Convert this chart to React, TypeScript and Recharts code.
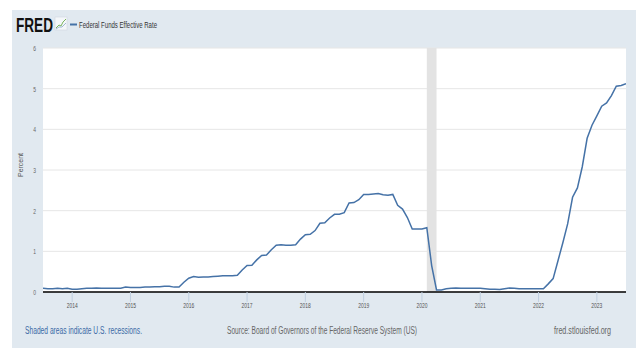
import React from "react";
import {
  CartesianGrid,
  Line,
  LineChart,
  ReferenceArea,
  XAxis,
  YAxis,
} from "recharts";

// monthly effective fed funds rate, percent
const rates2013 = [0.09, 0.08, 0.08, 0.09, 0.08, 0.09]; // Jul - Dec
const rates2014 = [0.07, 0.07, 0.08, 0.09, 0.09, 0.1, 0.09, 0.09, 0.09, 0.09, 0.09, 0.12];
const rates2015 = [0.11, 0.11, 0.11, 0.12, 0.12, 0.13, 0.13, 0.14, 0.14, 0.12, 0.12, 0.24];
const rates2016 = [0.34, 0.38, 0.36, 0.37, 0.37, 0.38, 0.39, 0.4, 0.4, 0.4, 0.41, 0.54];
const rates2017 = [0.65, 0.66, 0.79, 0.9, 0.91, 1.04, 1.15, 1.16, 1.15, 1.15, 1.16, 1.3];
const rates2018 = [1.41, 1.42, 1.51, 1.69, 1.7, 1.82, 1.91, 1.91, 1.95, 2.19, 2.2, 2.27];
const rates2019 = [2.4, 2.4, 2.41, 2.42, 2.39, 2.38, 2.4, 2.13, 2.04, 1.83, 1.55, 1.55];
const rates2020 = [1.55, 1.58, 0.65, 0.05, 0.05, 0.08, 0.09, 0.1, 0.09, 0.09, 0.09, 0.09];
const rates2021 = [0.09, 0.08, 0.07, 0.07, 0.06, 0.08, 0.1, 0.09, 0.08, 0.08, 0.08, 0.08];
const rates2022 = [0.08, 0.08, 0.2, 0.33, 0.77, 1.21, 1.68, 2.33, 2.56, 3.08, 3.78, 4.1];
const rates2023 = [4.33, 4.57, 4.65, 4.83, 5.06, 5.08, 5.12]; // Jan - Jul

const yearTicks = [2014, 2015, 2016, 2017, 2018, 2019, 2020, 2021, 2022, 2023];
const percentTicks = [0, 1, 2, 3, 4, 5, 6];
// recession: Feb 2020 - Apr 2020
const recessionStart = { year: 2020, month: 2 };
const recessionEnd = { year: 2020, month: 4 };

const yearly = [
  { year: 2013, first: 7, values: rates2013 },
  { year: 2014, first: 1, values: rates2014 },
  { year: 2015, first: 1, values: rates2015 },
  { year: 2016, first: 1, values: rates2016 },
  { year: 2017, first: 1, values: rates2017 },
  { year: 2018, first: 1, values: rates2018 },
  { year: 2019, first: 1, values: rates2019 },
  { year: 2020, first: 1, values: rates2020 },
  { year: 2021, first: 1, values: rates2021 },
  { year: 2022, first: 1, values: rates2022 },
  { year: 2023, first: 1, values: rates2023 },
];

const toT = (year: number, month: number) => year + (month - 1) / 12;

const data = yearly.flatMap((y) =>
  y.values.map((v, i) => ({ t: toT(y.year, y.first + i), rate: v }))
);

const FONT = "'Liberation Sans', Arial, sans-serif";
const BLUE = "#4572a7";

// text squeezed horizontally, like the original screenshot
function SqText(props: {
  x: number;
  y: number;
  size: number;
  fill?: string;
  anchor?: "start" | "middle" | "end";
  weight?: string | number;
  len?: number;
  sx?: number;
  children: React.ReactNode;
}) {
  const { x, y, size, fill = "#333", anchor = "start", weight, len, sx = 0.66 } = props;
  if (len) {
    return (
      <text
        x={x}
        y={y}
        fontSize={size}
        fontFamily={FONT}
        fontWeight={weight}
        fill={fill}
        textAnchor={anchor}
        dominantBaseline="central"
        textLength={len}
        lengthAdjust="spacingAndGlyphs"
      >
        {props.children}
      </text>
    );
  }
  return (
    <text
      transform={`translate(${x},${y}) scale(${sx},1)`}
      fontSize={size}
      fontFamily={FONT}
      fontWeight={weight}
      fill={fill}
      textAnchor={anchor}
      dominantBaseline="central"
    >
      {props.children}
    </text>
  );
}

const XTick = (p: any) => (
  <SqText x={p.x} y={295} size={7.5} fill="#555" anchor="middle">
    {p.payload.value}
  </SqText>
);

const YTick = (p: any) => (
  <SqText x={24} y={p.y} size={7.5} fill="#666" anchor="end">
    {p.payload.value}
  </SqText>
);

export default function App() {
  return (
    <div
      style={{
        position: "absolute",
        left: 0,
        top: 0,
        width: 643,
        height: 358,
        background: "#fff",
      }}
    >
      <div
        style={{
          position: "absolute",
          left: 12,
          top: 10,
          width: 624,
          height: 338,
          background: "#e1e9f0",
        }}
      >
        <LineChart
          width={624}
          height={338}
          data={data}
          margin={{ top: 38, right: 10, bottom: 26, left: 0 }}
        >
          <CartesianGrid fill="#fff" vertical={false} stroke="#e6e6e6" />
          <XAxis
            dataKey="t"
            type="number"
            domain={[2013.5, 2023.5]}
            ticks={yearTicks}
            height={30}
            axisLine={{ stroke: "#000", strokeWidth: 1.5 }}
            tickLine={{ stroke: "#c0d0e0" }}
            tickSize={10}
            tick={<XTick />}
            allowDataOverflow
          />
          <YAxis
            domain={[0, 6]}
            ticks={percentTicks}
            width={31}
            axisLine={false}
            tickLine={false}
            tick={<YTick />}
          />
          <ReferenceArea
            x1={toT(recessionStart.year, recessionStart.month)}
            x2={toT(recessionEnd.year, recessionEnd.month)}
            y1={0}
            y2={6}
            fill="#e3e3e3"
            fillOpacity={1}
            stroke="none"
          />
          <Line
            dataKey="rate"
            stroke={BLUE}
            strokeWidth={1.5}
            dot={false}
            type="linear"
            isAnimationActive={false}
          />
        </LineChart>
      </div>
      <svg
        width={643}
        height={358}
        style={{ position: "absolute", left: 0, top: 0, pointerEvents: "none" }}
      >
        {/* logo */}
        <SqText x={16} y={24} size={21} weight="bold" fill="#111" len={37}>
          FRED
        </SqText>
        <rect x={55} y={17} width={12} height={13} fill="#f4f7fa" stroke="#cfd8e0" strokeWidth={0.6} />
        <polyline points="56,28 59,25 61,26 63,22 66,19" fill="none" stroke="#7ab55c" strokeWidth={1} />
        <polyline points="56,29 59,27 62,27 66,23" fill="none" stroke="#8aa7c9" strokeWidth={0.8} />
        {/* legend */}
        <line x1={70} x2={77} y1={24.5} y2={24.5} stroke={BLUE} strokeWidth={2} />
        <SqText x={79} y={24.5} size={9.5} fill="#333" len={78}>
          Federal Funds Effective Rate
        </SqText>
        {/* axis title */}
        <text
          transform="translate(21,165) scale(0.8,1) rotate(-90)"
          fontSize={8}
          fontFamily={FONT}
          fill="#555"
          textAnchor="middle"
          dominantBaseline="central"
          textLength={24}
          lengthAdjust="spacingAndGlyphs"
        >
          Percent
        </text>
        {/* footer */}
        <SqText x={25} y={330} size={10} fill="#3d6aa6" len={117}>
          Shaded areas indicate U.S. recessions.
        </SqText>
        <SqText x={227} y={330} size={10} fill="#666" len={190}>
          Source: Board of Governors of the Federal Reserve System (US)
        </SqText>
        <SqText x={554} y={330} size={10} fill="#666" len={57}>
          fred.stlouisfed.org
        </SqText>
      </svg>
    </div>
  );
}
